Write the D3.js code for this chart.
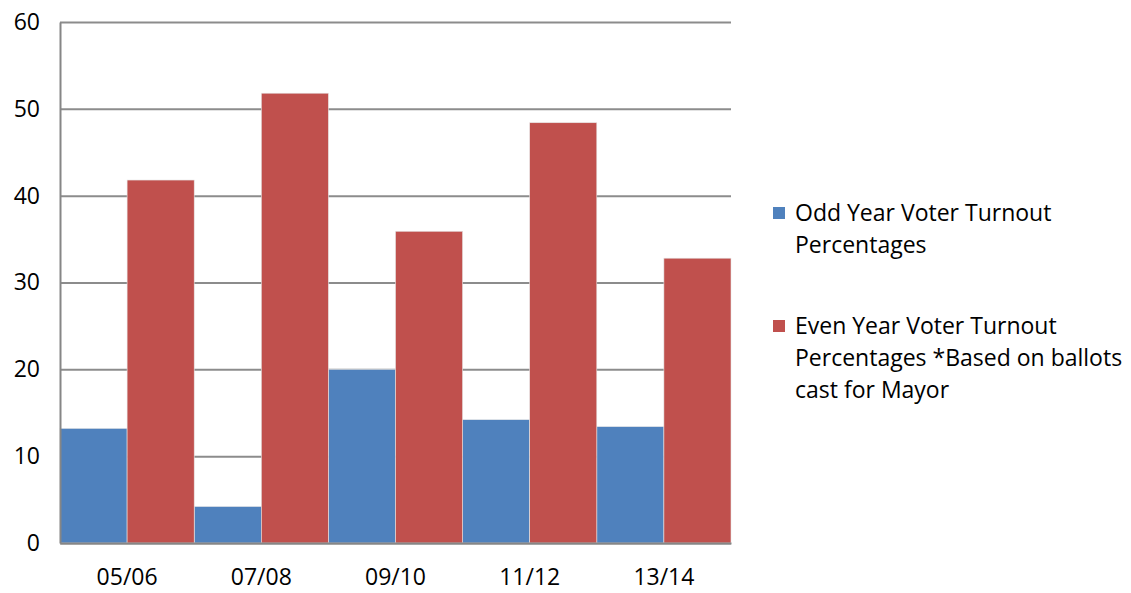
<!DOCTYPE html>
<html>
<head>
<meta charset="utf-8">
<script src="https://cdn.jsdelivr.net/npm/d3@7"></script>
<style>
  body { margin: 0; background: #fff; }
  svg text { font-family: "Open Sans", "DejaVu Sans", sans-serif; fill: #000; }
</style>
</head>
<body>
<div class="canvas"></div>
<script>
const categories = ["05/06", "07/08", "09/10", "11/12", "13/14"];
const oddYear = [13.2, 4.2, 20.0, 14.2, 13.4];
const evenYear = [41.8, 51.8, 35.9, 48.4, 32.8];
const yTicks = [0, 10, 20, 30, 40, 50, 60];
const seriesNames = [
  ["Odd Year Voter Turnout", "Percentages"],
  ["Even Year Voter Turnout", "Percentages *Based on ballots", "cast for Mayor"]
];
const colors = ["#4f81bd", "#c0504d"];

const w = 1131;
const h = 593;
const m = { left: 60, right: 400, top: 22, bottom: 50 };

const svg = d3.select(".canvas").append("svg").attr("width", w).attr("height", h);

const x = d3.scaleBand(categories, [m.left, w - m.right]).padding(0);
const xs = d3.scaleBand([0, 1], [0, x.bandwidth()]).padding(0);
const y = d3.scaleLinear([0, 60], [h - m.bottom, m.top]);

// gridlines
svg.append("g")
  .attr("transform", `translate(${m.left},0)`)
  .call(d3.axisLeft(y).tickValues(yTicks).tickSize(-(w - m.right - m.left)).tickFormat(""))
  .call(g => g.select(".domain").remove())
  .call(g => g.selectAll("line").attr("stroke", "#8c8c8c").attr("stroke-width", 2));

// bars
const series = [oddYear, evenYear];
series.forEach((vals, si) => {
  svg.append("g").selectAll("rect")
    .data(vals)
    .join("rect")
    .attr("x", (d, i) => x(categories[i]) + xs(si))
    .attr("width", xs.bandwidth())
    .attr("y", d => y(d))
    .attr("height", d => y(0) - y(d))
    .attr("fill", colors[si])
    .attr("stroke", "#e6e6e6")
    .attr("stroke-width", 0.6);
});

// y axis
svg.append("g")
  .attr("transform", `translate(${m.left},0)`)
  .call(d3.axisLeft(y).tickValues(yTicks).tickSize(0).tickPadding(20))
  .call(g => g.select(".domain").attr("stroke", "#868686").attr("stroke-width", 2))
  .call(g => g.selectAll("text").attr("font-size", 23).attr("fill", "#000"));

// x axis
svg.append("g")
  .attr("transform", `translate(0,${y(0)})`)
  .call(d3.axisBottom(x).tickSize(0).tickPadding(26))
  .call(g => g.select(".domain").attr("stroke", "#868686").attr("stroke-width", 2))
  .call(g => g.selectAll("text").attr("font-size", 23).attr("fill", "#000"));

// legend
const legendTop = [213, 326];
seriesNames.forEach((lines, si) => {
  const lg = svg.append("g").attr("transform", `translate(773,${legendTop[si]})`);
  lg.append("rect").attr("x", 0).attr("y", -6).attr("width", 12).attr("height", 12).attr("fill", colors[si]);
  lg.selectAll("text")
    .data(lines)
    .join("text")
    .attr("x", 22)
    .attr("y", (d, i) => i * 32)
    .attr("dy", "0.35em")
    .attr("font-size", 23)
    .text(d => d);
});
</script>
</body>
</html>
